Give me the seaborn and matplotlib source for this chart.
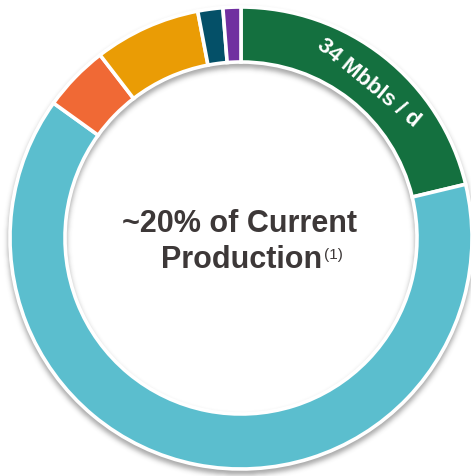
import numpy as np
import matplotlib
matplotlib.use("Agg")
import matplotlib.pyplot as plt
import seaborn as sns

# Production split by area (Mbbls/d), drawn clockwise from 12 o'clock
areas = ["Area A", "Area B", "Area C", "Area D", "Area E", "Area F"]
volumes = [34, 101.8, 7.4, 11.9, 2.8, 2.0]
colors = ["#14703F", "#5BBECE", "#F06935", "#EA9C05", "#045068", "#7030A0"]
label_text = "34 Mbbls / d"
center_line1 = "~20% of Current"
center_line2 = "Production"
footnote_mark = "(1)"

sns.set_theme(style="white")
plt.rcParams["font.family"] = ["Liberation Sans", "DejaVu Sans"]

W, H = 471, 476
fig = plt.figure(figsize=(W / 100, H / 100), dpi=100)
ax = fig.add_axes([0, 0, 1, 1])

cx, cy = 241.0, 238.0
R_out, ring_w = 231.0, 55.0
R_in = R_out - ring_w


def gaussian_blur(img, sigma):
    rad = int(3 * sigma) + 1
    k = np.exp(-0.5 * (np.arange(-rad, rad + 1) / sigma) ** 2)
    k /= k.sum()
    img = np.apply_along_axis(lambda m: np.convolve(m, k, mode="same"), 0, img)
    img = np.apply_along_axis(lambda m: np.convolve(m, k, mode="same"), 1, img)
    return img


# soft drop shadow under the ring
yy, xx = np.mgrid[0:H, 0:W] + 0.5
rr = np.hypot(xx - cx, yy - (cy - 4))
mask = ((rr >= R_in - 2) & (rr <= R_out + 2)).astype(float)
soft = gaussian_blur(mask, 2.5)
shadow = np.zeros((H, W, 4))
shadow[..., :3] = 0.25
shadow[..., 3] = 0.45 * soft
ax.imshow(shadow, extent=(0, W, 0, H), origin="lower", zorder=0, interpolation="bilinear")

wedges, _ = ax.pie(
    volumes,
    colors=sns.color_palette(colors),
    startangle=90,
    counterclock=False,
    radius=R_out,
    center=(cx, cy),
    wedgeprops=dict(width=ring_w, edgecolor="white", linewidth=2.6),
)
for w in wedges:
    w.set_zorder(2)

# value label along the first segment
w0 = wedges[0]
mid_deg = (w0.theta1 + w0.theta2) / 2 - 1.3
mid = np.deg2rad(mid_deg)
r_lab = R_out - ring_w / 2 - 3
ax.text(
    cx + r_lab * np.cos(mid), cy + r_lab * np.sin(mid), label_text,
    rotation=mid_deg - 90, rotation_mode="anchor",
    ha="center", va="center", color="white", fontsize=16, fontweight="bold", zorder=3,
)

# centre caption
txt_color = "#3D3838"
ax.text(239, H - 232, center_line1, ha="center", va="baseline",
        fontsize=22, fontweight="bold", color=txt_color, zorder=3)
ax.text(241.5, H - 268, center_line2, ha="center", va="baseline",
        fontsize=22, fontweight="bold", color=txt_color, zorder=3)
ax.text(324, H - 259, footnote_mark, ha="left", va="baseline",
        fontsize=11, color=txt_color, zorder=3)

ax.set_xlim(0, W)
ax.set_ylim(0, H)
ax.set_aspect("equal")
ax.axis("off")

fig.savefig("out.png", dpi=100, facecolor="white")
